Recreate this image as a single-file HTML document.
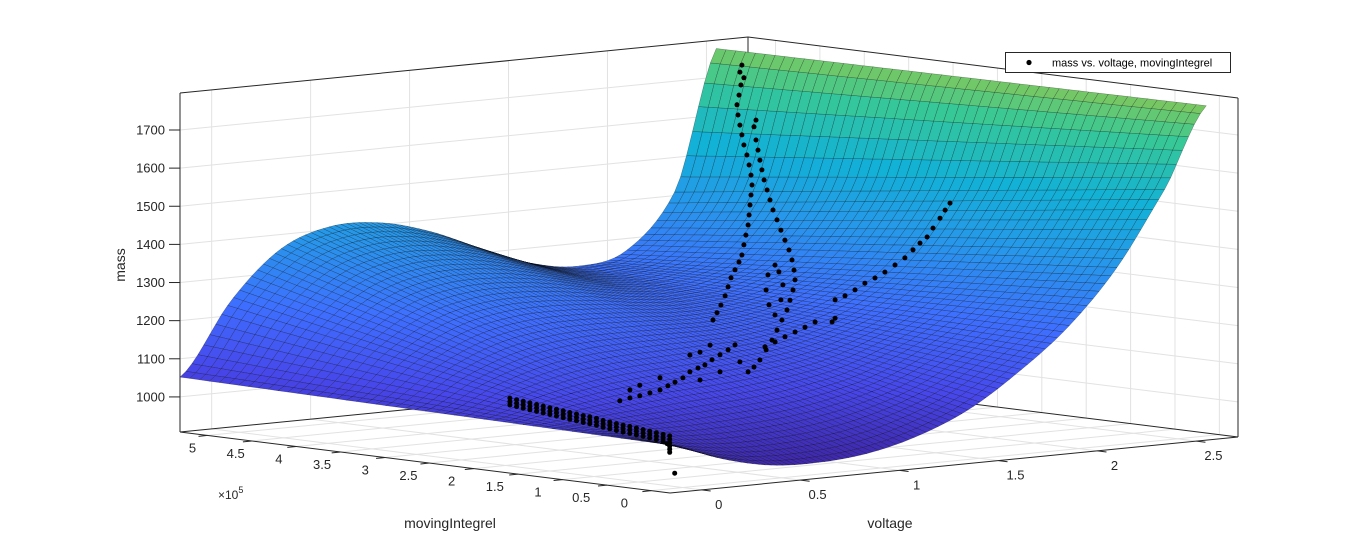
<!DOCTYPE html>
<html><head><meta charset="utf-8"><style>
html,body{margin:0;padding:0;background:#fff;}
svg{display:block;font-family:"Liberation Sans",Arial,sans-serif;}
</style></head><body>
<svg id="chart" width="1372" height="556" viewBox="0 0 1372 556" xmlns="http://www.w3.org/2000/svg">
<rect x="0" y="0" width="1372" height="556" fill="#fff"/>
<g id="grid"></g>
<g id="box"></g>
<g id="ticks"></g>
<g id="surf"></g>
<g id="scatter"></g>
<text x="125" y="265" font-size="14" fill="#262626" text-anchor="middle" transform="rotate(-90 125 265)">mass</text>
<text x="890" y="528" font-size="14" fill="#262626" text-anchor="middle">voltage</text>
<text x="450" y="528" font-size="14" fill="#262626" text-anchor="middle">movingIntegrel</text>
<text x="218" y="499" font-size="12" fill="#262626">×10<tspan dy="-6" font-size="9">5</tspan></text>
<g>
<rect x="1005.5" y="52.5" width="225" height="20" fill="#fff" stroke="#262626" stroke-width="1"/>
<circle cx="1029" cy="62.5" r="2.6" fill="#000"/>
<text x="1052" y="66.5" font-size="11" fill="#000">mass vs. voltage, movingIntegrel</text>
</g>
</svg>
<script>
// ---- axis limits ----
const vmin=-0.16, vmax=2.71, mmin=-0.21e5, mmax=5.31e5, zmin=908, zmax=1797;
// ---- ticks ----
const vTicks=[0,0.5,1,1.5,2,2.5];
const vTickLabels=["0","0.5","1","1.5","2","2.5"];
const mTicks=[0,0.5e5,1e5,1.5e5,2e5,2.5e5,3e5,3.5e5,4e5,4.5e5,5e5];
const mTickLabels=["0","0.5","1","1.5","2","2.5","3","3.5","4","4.5","5"];
const zTicks=[1000,1100,1200,1300,1400,1500,1600,1700];
const zTickLabels=["1000","1100","1200","1300","1400","1500","1600","1700"];
// ---- fitted surface edge profiles ----
const surfVoltage=[-0.16,0.1,0.35,0.6,0.85,1.1,1.35,1.6,1.85,2.1,2.35,2.55];
const surfMassFront=[1034,985,955,950,962,995,1050,1135,1240,1385,1585,1785];
const surfMassBack=[1052,1240,1362,1408,1405,1370,1314,1262,1240,1270,1420,1775];
// ---- scatter data ----
const strandAVoltage=[2.316,2.306,2.326,2.311,2.301,2.291,2.296,2.306,2.316,2.326,2.341,2.352,2.362,2.367,2.362,2.357,2.352,2.347,2.336,2.326,2.316,2.301,2.281,2.261,2.246,2.231,2.210,2.190,2.170];
const strandAMass=[1767,1749,1733,1715,1689,1664,1637,1610,1584,1557,1530,1503,1476,1450,1424,1398,1372,1346,1320,1295,1269,1251,1232,1212,1189,1166,1143,1124,1106];
const strandBVoltage=[2.387,2.377,2.387,2.397,2.407,2.417,2.428,2.443,2.458,2.473,2.493,2.513,2.533,2.554,2.569,2.579,2.584,2.574,2.559,2.544,2.518,2.493,2.468,2.438,2.407,2.377,2.347,2.483,2.448,2.438,2.453,2.483,2.513,2.523,2.503];
const strandBMass=[1619,1602,1567,1540,1513,1487,1460,1433,1406,1379,1352,1324,1297,1270,1243,1216,1190,1164,1138,1113,1088,1063,1038,1014,989,972,961,1234,1210,1171,1131,1103,1141,1180,1215];
const lowerVoltage=[2.281,2.246,2.205,2.165,2.129,2.094,2.053,2.018,1.978,1.942,1.902,1.851,1.800,1.750,1.699,2.053,2.104,2.205,2.306,1.902,1.800,1.750,2.155,2.104];
const lowerMass=[1035,1024,1013,1002,990,984,976,962,953,945,936,931,926,923,918,1020,952,968,989,968,954,944,1041,1025];
const rightVoltage=[2.022,1.997,1.971,1.936,1.906,1.870,1.835,1.794,1.744,1.693,1.643,1.592,1.542,1.491,1.441,1.426,1.441,1.340,1.289,1.239,1.188,1.138,1.087];
const rightMass=[1507,1490,1470,1446,1424,1410,1394,1375,1359,1343,1330,1319,1304,1291,1283,1226,1235,1230,1219,1209,1199,1188,1178];
const bandMoving=[15000,22500,30000,37500,45000,52500,60000,67500,75000,82500,90000,97500,105000,112500,120000,127500,135000,142500,150000,157500,165000,172500,180000,187500,195000];
const bandMassMid=[1030,1032,1034,1036,1038,1040,1042,1043,1045,1047,1049,1052,1054,1055,1057,1059,1061,1063,1065,1067,1069,1071,1073,1075,1077];
const bandMassHi=[1039,1041,1043,1045,1047,1049,1051,1052,1054,1056,1058,1061,1063,1064,1066,1068,1070,1072,1074,1076,1078,1080,1082,1084,1086];
const bandMassLo=[1021,1023,1025,1027,1029,1031,1033,1034,1036,1038,1040,1043,1045,1046,1048,1050,1052,1054,1056,1058,1060,1062,1064,1066,1068];
const stripMoving=[15000,15000,15000,18000,9400];
const stripMass=[1012,1004,996,1018,943];

const NS="http://www.w3.org/2000/svg";
function P(v,m,z){
  const fv=(v-vmin)/(vmax-vmin), fm=(m-mmin)/(mmax-mmin), fz=(z-zmin)/(zmax-zmin);
  return [670+fv*568-fm*490, 493-fv*56-fm*61-fz*339];
}
function depth(v,m,z){
  return 0.8627*(v-vmin)/(vmax-vmin)+(m-mmin)/(mmax-mmin)-0.3225*(z-zmin)/(zmax-zmin);
}
function line(g,a,b,stroke,w,name){
  const l=document.createElementNS(NS,"line");
  l.setAttribute("x1",a[0].toFixed(2));l.setAttribute("y1",a[1].toFixed(2));
  l.setAttribute("x2",b[0].toFixed(2));l.setAttribute("y2",b[1].toFixed(2));
  l.setAttribute("stroke",stroke);l.setAttribute("stroke-width",w);
  
  
  g.appendChild(l);return l;
}
function text(g,x,y,s,anchor,name){
  const t=document.createElementNS(NS,"text");
  t.setAttribute("x",x.toFixed(1));t.setAttribute("y",y.toFixed(1));
  t.setAttribute("font-size","13");t.setAttribute("fill","#262626");
  t.setAttribute("text-anchor",anchor);
  t.textContent=s;
  
  
  g.appendChild(t);
}
const grid=document.getElementById("grid"), box=document.getElementById("box"), ticks=document.getElementById("ticks");
const gc="#e2e2e2";
vTicks.forEach(v=>line(grid,P(v,mmin,zmin),P(v,mmax,zmin),gc,1,"floor-grid-line"));
mTicks.forEach(m=>line(grid,P(vmin,m,zmin),P(vmax,m,zmin),gc,1,"floor-grid-line"));
vTicks.forEach(v=>line(grid,P(v,mmax,zmin),P(v,mmax,zmax),gc,1,"back-wall-grid-line"));
zTicks.forEach(z=>line(grid,P(vmin,mmax,z),P(vmax,mmax,z),gc,1,"back-wall-grid-line"));
mTicks.forEach(m=>line(grid,P(vmax,m,zmin),P(vmax,m,zmax),gc,1,"side-wall-grid-line"));
zTicks.forEach(z=>line(grid,P(vmax,mmin,z),P(vmax,mmax,z),gc,1,"side-wall-grid-line"));
const bc="#262626";
const L=P(vmin,mmax,zmin),F=P(vmin,mmin,zmin),R=P(vmax,mmin,zmin),B=P(vmax,mmax,zmin);
const Lt=P(vmin,mmax,zmax),Rt=P(vmax,mmin,zmax),Bt=P(vmax,mmax,zmax);
[[L,B],[B,R],[B,Bt],[L,F],[F,R],[L,Lt],[R,Rt],[Lt,Bt],[Bt,Rt]].forEach(e=>line(box,e[0],e[1],bc,1,"box-edge"));
zTicks.forEach((z,i)=>{const p=P(vmin,mmax,z);line(ticks,[p[0]-11,p[1]],p,bc,1,"z-tick");text(ticks,p[0]-15,p[1]+4.5,zTickLabels[i],"end","z-tick-label");});
vTicks.forEach((v,i)=>{const p=P(v,mmin,zmin);line(ticks,p,[p[0]+9,p[1]+1.1],bc,1,"x-tick");text(ticks,p[0]+17,p[1]+19,vTickLabels[i],"middle","x-tick-label");});
mTicks.forEach((m,i)=>{const p=P(vmin,m,zmin);line(ticks,p,[p[0]-9,p[1]+0.9],bc,1,"y-tick");text(ticks,p[0]-27+2.4*m/1e5,p[1]+17,mTickLabels[i],"middle","y-tick-label");});

const cmap=[[0,62,38,168],[0.111,71,71,235],[0.238,62,111,255],[0.365,39,150,235],[0.492,18,177,214],[0.619,55,200,151],[0.746,171,199,57],[0.873,254,195,56],[1,249,251,21]];
function color(z){
  let t=(z-945)/(2150-945);t=Math.max(0,Math.min(1,t));
  for(let i=1;i<cmap.length;i++){if(t<=cmap[i][0]){const a=cmap[i-1],b=cmap[i],u=(t-a[0])/(b[0]-a[0]);
    return "rgb("+[1,2,3].map(k=>Math.round(a[k]+(b[k]-a[k])*u)).join(",")+")";}}
  return "rgb(249,251,21)";
}
function spline(xs,ys,x){
  let i=0;while(i<xs.length-2&&x>xs[i+1])i++;
  const p0=ys[Math.max(0,i-1)],p1=ys[i],p2=ys[i+1],p3=ys[Math.min(ys.length-1,i+2)];
  const t=(x-xs[i])/(xs[i+1]-xs[i]);
  return 0.5*((2*p1)+(-p0+p2)*t+(2*p0-5*p1+4*p2-p3)*t*t+(-p0+3*p1-3*p2+p3)*t*t*t);
}
function surfZ(v,m){
  const f0=spline(surfVoltage,surfMassFront,v),f1=spline(surfVoltage,surfMassBack,v);
  const t=(m-mmin)/(mmax-mmin);return f0*(1-t)+f1*t;
}
const NV=90,NM=50;
const sv0=surfVoltage[0],sv1=surfVoltage[surfVoltage.length-1];
const Z=[];
for(let i=0;i<=NV;i++){Z.push([]);const v=sv0+(sv1-sv0)*i/NV;for(let j=0;j<=NM;j++){const m=mmin+(mmax-mmin)*j/NM;Z[i].push(surfZ(v,m));}}
const quads=[];
for(let i=0;i<NV;i++)for(let j=0;j<NM;j++){
  const v0=sv0+(sv1-sv0)*i/NV,v1=sv0+(sv1-sv0)*(i+1)/NV,m0=mmin+(mmax-mmin)*j/NM,m1=mmin+(mmax-mmin)*(j+1)/NM;
  const zc=(Z[i][j]+Z[i+1][j]+Z[i+1][j+1]+Z[i][j+1])/4;
  const pts=[P(v0,m0,Z[i][j]),P(v1,m0,Z[i+1][j]),P(v1,m1,Z[i+1][j+1]),P(v0,m1,Z[i][j+1])];
  quads.push({d:depth((v0+v1)/2,(m0+m1)/2,zc),pts,zc});
}
quads.sort((a,b)=>b.d-a.d);
const surf=document.getElementById("surf");
let html="";
quads.forEach(q=>{html+='<polygon points="'+q.pts.map(p=>p[0].toFixed(1)+","+p[1].toFixed(1)).join(" ")+'" fill="'+color(q.zc)+'" stroke="rgba(0,0,0,0.42)" stroke-width="0.5"/>';});
surf.innerHTML=html;

const sc=document.getElementById("scatter");
function dot(v,m,z){
  const p=P(v,m,z);
  const c=document.createElementNS(NS,"circle");
  c.setAttribute("cx",p[0].toFixed(1));c.setAttribute("cy",p[1].toFixed(1));c.setAttribute("r","2.5");c.setAttribute("fill","#000");
  
  
  sc.appendChild(c);
}
strandAVoltage.forEach((v,i)=>dot(v,4.5e5,strandAMass[i]));
strandBVoltage.forEach((v,i)=>dot(v,4.5e5,strandBMass[i]));
lowerVoltage.forEach((v,i)=>dot(v,4.5e5,lowerMass[i]));
rightVoltage.forEach((v,i)=>dot(v,1.5e5,rightMass[i]));
bandMoving.forEach((m,i)=>{dot(0,m,bandMassMid[i]);dot(0,m,bandMassHi[i]);dot(0,m,bandMassLo[i]);});
stripMoving.forEach((m,i)=>dot(0,m,stripMass[i]));
</script>
</body></html>
